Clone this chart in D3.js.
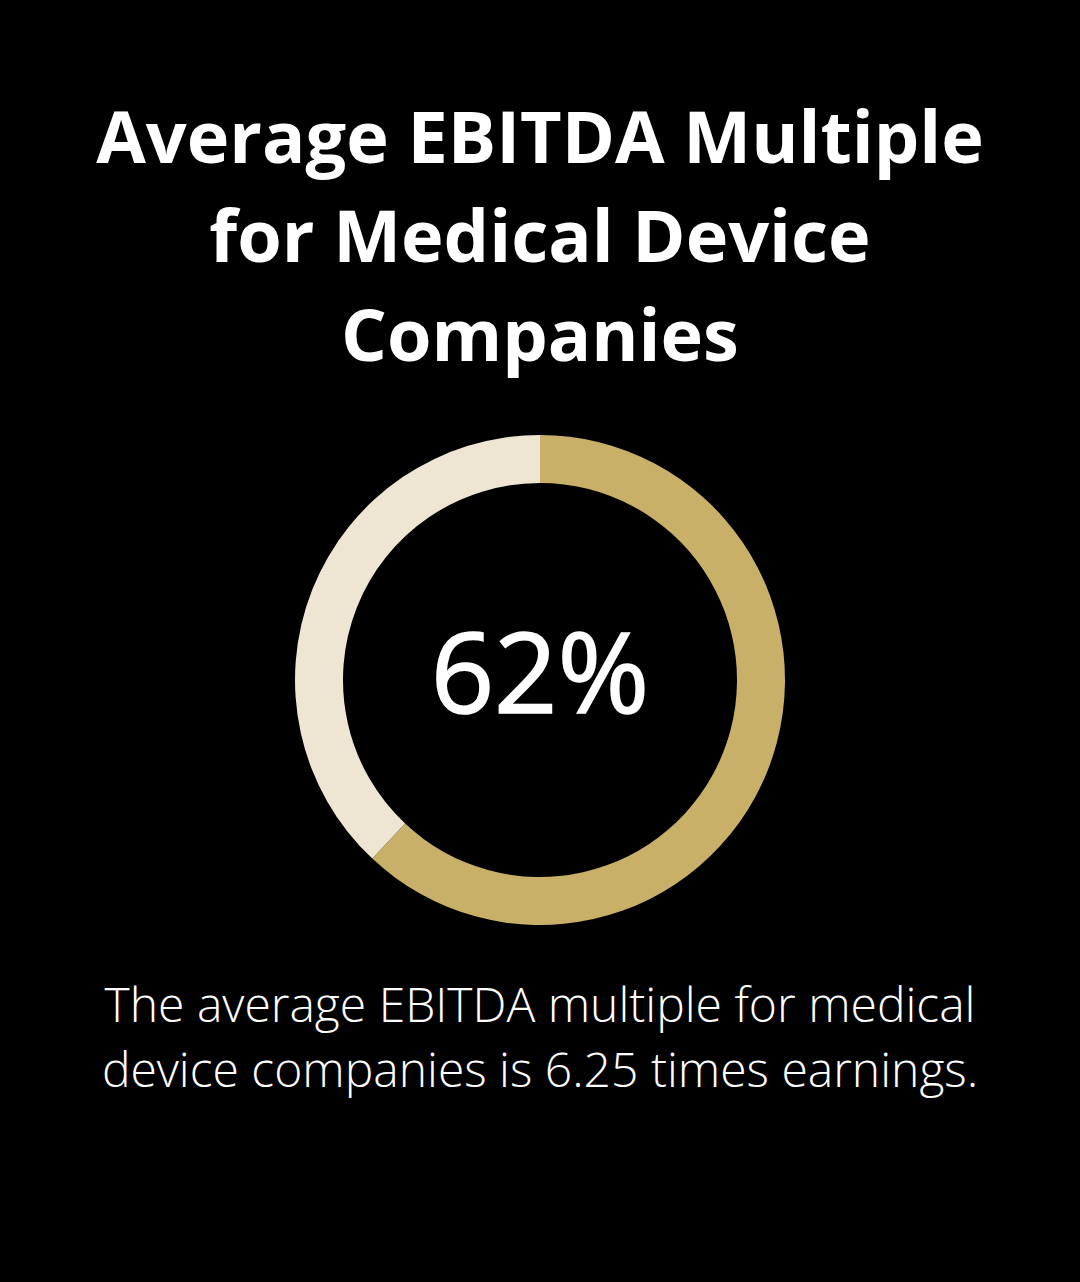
<!DOCTYPE html>
<html>
<head>
<meta charset="utf-8">
<script src="https://cdn.jsdelivr.net/npm/d3@7"></script>
<style>
  body { margin: 0; background: #000; }
  svg { display: block; }
</style>
</head>
<body>
<script>
// data
var labels = ["Medical device EBITDA share", "Rest"];
var values = [62, 38];
var colors = ["#c8b069", "#eee5d2"];
var titleLines = ["Average EBITDA Multiple", "for Medical Device", "Companies"];
var noteLines = ["The average EBITDA multiple for medical", "device companies is 6.25 times earnings."];

var width = 1080;
var height = 1282;

var svg = d3.select("body")
    .append("svg")
    .attr("width", width)
    .attr("height", height);

svg.append("rect")
    .attr("width", width)
    .attr("height", height)
    .attr("fill", "#000");

// title
svg.selectAll("text.title")
    .data(titleLines)
    .enter()
    .append("text")
    .attr("class", "title")
    .attr("x", width / 2)
    .attr("y", function(d, i) { return 163 + i * 99; })
    .attr("text-anchor", "middle")
    .attr("font-family", "'Open Sans', sans-serif")
    .attr("font-weight", 700)
    .attr("font-size", 72)
    .attr("fill", "#fff")
    .text(function(d) { return d; });

// donut
var pie = d3.pie().sort(null).value(function(d) { return d; });
var arc = d3.arc().innerRadius(197).outerRadius(245);

var g = svg.append("g")
    .attr("transform", "translate(540,680)");

g.selectAll("path")
    .data(pie(values))
    .enter()
    .append("path")
    .attr("d", arc)
    .attr("fill", function(d, i) { return colors[i]; });

// thin white outline thickens the glyphs a little, the reference is heavier than regular
g.append("text")
    .attr("x", 0)
    .attr("y", 33)
    .attr("text-anchor", "middle")
    .attr("font-family", "'Open Sans', sans-serif")
    .attr("font-weight", 400)
    .attr("font-size", 111)
    .attr("fill", "#fff")
    .attr("stroke", "#fff")
    .attr("stroke-width", 1.6)
    .text(values[0] + "%");

// note under the chart
svg.selectAll("text.note")
    .data(noteLines)
    .enter()
    .append("text")
    .attr("class", "note")
    .attr("x", width / 2)
    .attr("y", function(d, i) { return 1022 + i * 65; })
    .attr("text-anchor", "middle")
    .attr("font-family", "'Open Sans', sans-serif")
    .attr("font-weight", 300)
    .attr("font-size", 48)
    .attr("fill", "#fff")
    .text(function(d) { return d; });
</script>
</body>
</html>
